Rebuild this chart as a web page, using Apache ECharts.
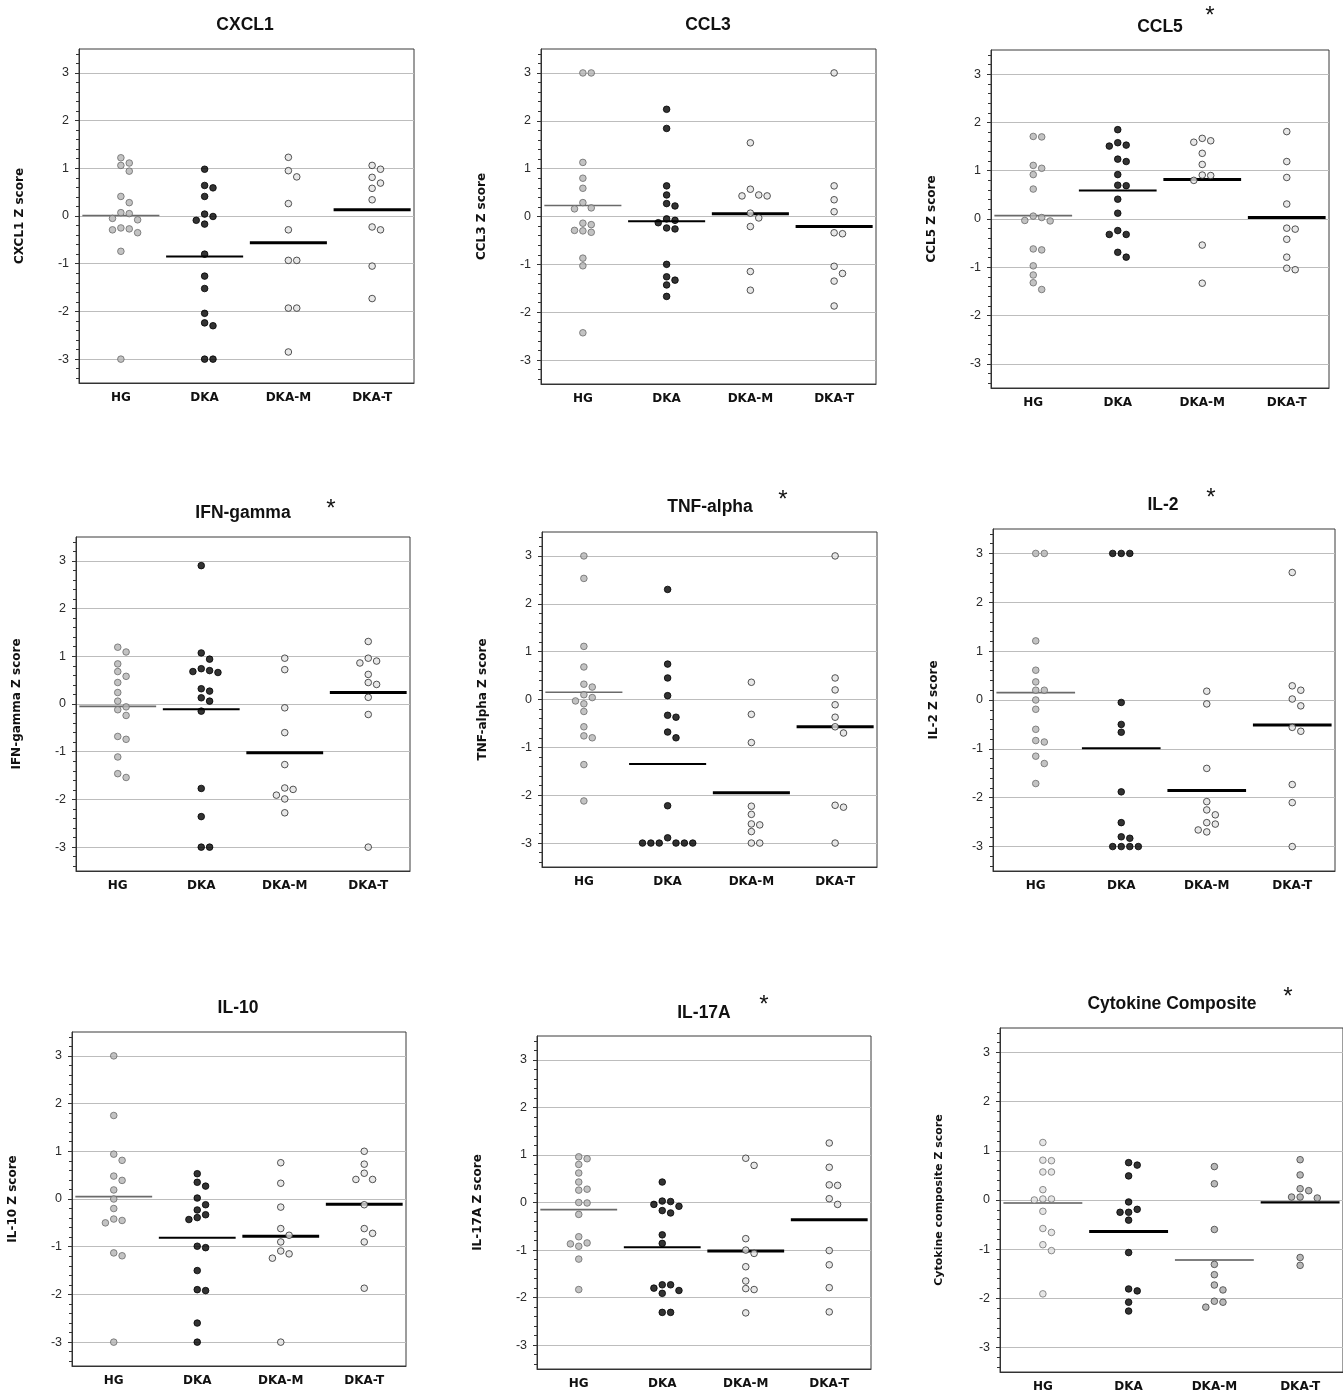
<!DOCTYPE html>
<html><head><meta charset="utf-8">
<script src="https://cdn.jsdelivr.net/npm/echarts@6/dist/echarts.min.js"></script>
<style>html,body{margin:0;padding:0;background:#fff}#c{width:1343px;height:1393px}</style>
</head><body><div id="c"></div>
<script>
// ---------------- DATA ----------------
const CATEGORIES = ['HG', 'DKA', 'DKA-M', 'DKA-T'];
const Y_TICKS = [-3, -2, -1, 0, 1, 2, 3];

const CXCL1_HG   = [1.22, 1.11, 1.06, 0.94, 0.41, 0.28, 0.07, 0.05, -0.05, -0.08, -0.25, -0.27, -0.29, -0.35, -0.74, -3.0];
const CXCL1_DKA  = [0.98, 0.64, 0.59, 0.41, 0.04, -0.01, -0.09, -0.17, -0.80, -1.26, -1.52, -2.04, -2.24, -2.30, -3.0, -3.0];
const CXCL1_DKAM = [1.23, 0.95, 0.82, 0.26, -0.29, -0.93, -0.93, -1.93, -1.93, -2.85];
const CXCL1_DKAT = [1.06, 0.98, 0.81, 0.69, 0.58, 0.34, -0.23, -0.29, -1.05, -1.73];
const CXCL1_MEANS = [0.01, -0.85, -0.56, 0.13];

const CCL3_HG   = [3.0, 3.0, 1.13, 0.80, 0.59, 0.29, 0.18, 0.16, -0.14, -0.17, -0.29, -0.30, -0.33, -0.87, -1.03, -2.43];
const CCL3_DKA  = [2.24, 1.84, 0.64, 0.45, 0.27, 0.22, -0.05, -0.08, -0.13, -0.24, -0.26, -1.00, -1.26, -1.33, -1.43, -1.67];
const CCL3_DKAM = [1.54, 0.57, 0.45, 0.43, 0.43, 0.07, -0.03, -0.21, -1.15, -1.54];
const CCL3_DKAT = [3.0, 0.64, 0.35, 0.10, -0.34, -0.36, -1.04, -1.19, -1.35, -1.87];
const CCL3_MEANS = [0.23, -0.10, 0.06, -0.21];

const CCL5_HG   = [1.71, 1.70, 1.11, 1.05, 0.92, 0.62, 0.06, 0.03, -0.03, -0.04, -0.62, -0.64, -0.97, -1.16, -1.32, -1.46];
const CCL5_DKA  = [1.85, 1.58, 1.53, 1.51, 1.24, 1.19, 0.92, 0.70, 0.69, 0.41, 0.12, -0.24, -0.32, -0.32, -0.69, -0.79];
const CCL5_DKAM = [1.67, 1.62, 1.59, 1.36, 1.13, 0.91, 0.90, 0.80, -0.54, -1.33];
const CCL5_DKAT = [1.81, 1.19, 0.86, 0.31, -0.19, -0.21, -0.42, -0.79, -1.02, -1.05];
const CCL5_MEANS = [0.07, 0.59, 0.82, 0.03];

const IFNG_HG   = [1.19, 1.09, 0.84, 0.68, 0.58, 0.45, 0.24, 0.06, -0.06, -0.12, -0.24, -0.68, -0.74, -1.11, -1.46, -1.54];
const IFNG_DKA  = [2.90, 1.07, 0.94, 0.74, 0.70, 0.68, 0.66, 0.32, 0.27, 0.13, 0.06, -0.15, -1.77, -2.36, -3.0, -3.0];
const IFNG_DKAM = [0.96, 0.72, -0.08, -0.60, -1.27, -1.76, -1.79, -1.91, -1.99, -2.28];
const IFNG_DKAT = [1.31, 0.96, 0.90, 0.86, 0.62, 0.45, 0.41, 0.14, -0.22, -3.0];
const IFNG_MEANS = [-0.05, -0.11, -1.02, 0.24];

const TNFA_HG   = [3.0, 2.53, 1.11, 0.68, 0.32, 0.26, 0.10, 0.04, -0.03, -0.09, -0.25, -0.57, -0.76, -0.80, -1.36, -2.12];
const TNFA_DKA  = [2.30, 0.74, 0.45, 0.08, -0.33, -0.37, -0.68, -0.80, -2.22, -2.89, -3.0, -3.0, -3.0, -3.0, -3.0, -3.0];
const TNFA_DKAM = [0.36, -0.31, -0.90, -2.23, -2.40, -2.60, -2.62, -2.76, -3.0, -3.0];
const TNFA_DKAT = [3.0, 0.45, 0.20, -0.11, -0.37, -0.57, -0.70, -2.21, -2.25, -3.0];
const TNFA_MEANS = [0.15, -1.35, -1.95, -0.57];

const IL2_HG   = [3.0, 3.0, 1.21, 0.61, 0.37, 0.20, 0.20, 0.0, -0.19, -0.60, -0.83, -0.86, -1.15, -1.30, -1.71];
const IL2_DKA  = [3.0, 3.0, 3.0, -0.05, -0.50, -0.66, -1.88, -2.51, -2.80, -2.83, -3.0, -3.0, -3.0, -3.0];
const IL2_DKAM = [0.18, -0.08, -1.40, -2.08, -2.25, -2.35, -2.51, -2.54, -2.66, -2.70];
const IL2_DKAT = [2.61, 0.29, 0.20, 0.02, -0.12, -0.56, -0.64, -1.73, -2.10, -3.0];
const IL2_MEANS = [0.15, -0.99, -1.85, -0.51];

const IL10_HG   = [3.0, 1.75, 0.94, 0.81, 0.48, 0.39, 0.19, 0.0, -0.20, -0.42, -0.45, -0.50, -1.13, -1.19, -3.0];
const IL10_DKA  = [0.53, 0.35, 0.27, 0.02, -0.12, -0.23, -0.33, -0.39, -0.43, -0.99, -1.02, -1.50, -1.90, -1.92, -2.60, -3.0];
const IL10_DKAM = [0.76, 0.33, -0.17, -0.62, -0.76, -0.90, -1.09, -1.15, -1.24, -3.0];
const IL10_DKAT = [1.00, 0.73, 0.54, 0.41, 0.41, -0.12, -0.62, -0.72, -0.90, -1.87];
const IL10_MEANS = [0.05, -0.81, -0.78, -0.11];

const IL17A_HG   = [0.96, 0.92, 0.80, 0.62, 0.43, 0.28, 0.26, 0.0, -0.01, -0.25, -0.72, -0.85, -0.87, -0.92, -1.19, -1.83];
const IL17A_DKA  = [0.43, 0.03, 0.02, -0.04, -0.08, -0.17, -0.22, -0.68, -0.86, -1.73, -1.73, -1.80, -1.85, -1.91, -2.31, -2.31];
const IL17A_DKAM = [0.93, 0.78, -0.76, -1.00, -1.07, -1.35, -1.65, -1.81, -1.83, -2.32];
const IL17A_DKAT = [1.25, 0.74, 0.37, 0.36, 0.08, -0.04, -1.01, -1.31, -1.79, -2.30];
const IL17A_MEANS = [-0.15, -0.94, -1.02, -0.36];

const COMP_HG   = [1.17, 0.81, 0.80, 0.57, 0.57, 0.21, 0.02, 0.02, 0.0, -0.23, -0.58, -0.66, -0.91, -1.03, -1.91];
const COMP_DKA  = [0.76, 0.71, 0.49, -0.04, -0.19, -0.25, -0.25, -0.41, -1.07, -1.81, -1.85, -2.08, -2.26];
const COMP_DKAM = [0.68, 0.33, -0.60, -1.31, -1.52, -1.73, -1.83, -2.06, -2.08, -2.18];
const COMP_DKAT = [0.82, 0.51, 0.23, 0.19, 0.06, 0.06, 0.04, -1.17, -1.33];
const COMP_MEANS = [-0.06, -0.64, -1.22, -0.05];

const PANELS = [
  { title: 'CXCL1', star: false, yName: 'CXCL1 Z score', groups: [CXCL1_HG, CXCL1_DKA, CXCL1_DKAM, CXCL1_DKAT], means: CXCL1_MEANS, style: 'std' },
  { title: 'CCL3', star: false, yName: 'CCL3 Z score', groups: [CCL3_HG, CCL3_DKA, CCL3_DKAM, CCL3_DKAT], means: CCL3_MEANS, style: 'std' },
  { title: 'CCL5', star: true, yName: 'CCL5 Z score', groups: [CCL5_HG, CCL5_DKA, CCL5_DKAM, CCL5_DKAT], means: CCL5_MEANS, style: 'std' },
  { title: 'IFN-gamma', star: true, yName: 'IFN-gamma Z score', groups: [IFNG_HG, IFNG_DKA, IFNG_DKAM, IFNG_DKAT], means: IFNG_MEANS, style: 'std' },
  { title: 'TNF-alpha', star: true, yName: 'TNF-alpha Z score', groups: [TNFA_HG, TNFA_DKA, TNFA_DKAM, TNFA_DKAT], means: TNFA_MEANS, style: 'std' },
  { title: 'IL-2', star: true, yName: 'IL-2 Z score', groups: [IL2_HG, IL2_DKA, IL2_DKAM, IL2_DKAT], means: IL2_MEANS, style: 'std' },
  { title: 'IL-10', star: false, yName: 'IL-10 Z score', groups: [IL10_HG, IL10_DKA, IL10_DKAM, IL10_DKAT], means: IL10_MEANS, style: 'std' },
  { title: 'IL-17A', star: true, yName: 'IL-17A Z score', groups: [IL17A_HG, IL17A_DKA, IL17A_DKAM, IL17A_DKAT], means: IL17A_MEANS, style: 'std' },
  { title: 'Cytokine Composite', star: true, yName: 'Cytokine composite Z score', groups: [COMP_HG, COMP_DKA, COMP_DKAM, COMP_DKAT], means: COMP_MEANS, style: 'comp' }
];

// ---------------- LAYOUT (pixels) ----------------
const LAYOUT = [
  { l: 79,   t: 49,   w: 335, h: 334, tx: 245,  ty: 25 },
  { l: 541,  t: 49,   w: 335, h: 335, tx: 708,  ty: 25 },
  { l: 991,  t: 50,   w: 338, h: 338, tx: 1160, ty: 27,   sx: 1210, sy: 16 },
  { l: 76,   t: 537,  w: 334, h: 334, tx: 243,  ty: 513,  sx: 331,  sy: 509 },
  { l: 542,  t: 532,  w: 335, h: 335, tx: 710,  ty: 507,  sx: 783,  sy: 500 },
  { l: 993,  t: 529,  w: 342, h: 342, tx: 1163, ty: 505,  sx: 1211, sy: 498 },
  { l: 72,   t: 1032, w: 334, h: 334, tx: 238,  ty: 1008 },
  { l: 537,  t: 1036, w: 334, h: 333, tx: 704,  ty: 1013, sx: 764,  sy: 1005 },
  { l: 1000, t: 1028, w: 343, h: 344, tx: 1172, ty: 1004, sx: 1288, sy: 997 }
];

const Y_MIN = -3.5, Y_MAX = 3.5;
const DOT_STEP = 0.1;     // horizontal spacing of stacked dots (category widths)
const DOT_SIZE = 6.6;
const COLLIDE_PX = 7.4;

const POINT_STYLES = {
  std: [
    { color: '#b4b4b4', borderColor: '#6a6a6a', borderWidth: 1 },
    { color: '#000000', borderColor: '#000000', borderWidth: 1 },
    { color: '#e2e2e2', borderColor: '#2a2a2a', borderWidth: 1 },
    { color: '#e2e2e2', borderColor: '#2a2a2a', borderWidth: 1 }
  ],
  comp: [
    { color: '#e0e0e0', borderColor: '#707070', borderWidth: 1 },
    { color: '#000000', borderColor: '#000000', borderWidth: 1 },
    { color: '#a8a8a8', borderColor: '#404040', borderWidth: 1 },
    { color: '#a8a8a8', borderColor: '#404040', borderWidth: 1 }
  ]
};
const LINE_STYLES = {
  std: [
    { color: '#6a6a6a', width: 1.6 },
    { color: '#000000', width: 2 },
    { color: '#000000', width: 3 },
    { color: '#000000', width: 3 }
  ],
  comp: [
    { color: '#5a5a5a', width: 1.6 },
    { color: '#000000', width: 3 },
    { color: '#555555', width: 1.6 },
    { color: '#000000', width: 2.2 }
  ]
};

const MINOR_TICKS = [];
for (let i = -17; i <= 17; i++) { if (i % 5 !== 0) MINOR_TICKS.push(Math.round(i * 0.2 * 10) / 10); }

// simple beeswarm: returns column offsets (integer) per value
function swarm(values, unitPx) {
  const idx = values.map((v, i) => i).sort((a, b) => values[b] - values[a]);
  const order = [0, 1, -1, 2, -2, 3, -3, 4, -4, 5, -5];
  const placed = [];
  const cols = new Array(values.length).fill(0);
  idx.forEach(i => {
    const y = values[i] * unitPx;
    for (const c of order) {
      if (!placed.some(p => p.c === c && Math.abs(p.y - y) < COLLIDE_PX)) {
        cols[i] = c; placed.push({ c, y }); break;
      }
    }
  });
  return cols;
}

const grids = [], xAxes = [], yAxes = [], series = [], graphics = [];
const TITLE_FONT = 'bold 17.5px "Liberation Sans", Arial, sans-serif';

PANELS.forEach((p, gi) => {
  const L = LAYOUT[gi];
  grids.push({ left: L.l, top: L.t, width: L.w, height: L.h, show: true, borderColor: '#3a3a3a', borderWidth: 1, backgroundColor: 'transparent' });
  xAxes.push({
    type: 'value', gridIndex: gi, min: 0, max: CATEGORIES.length, position: 'bottom',
    axisLine: { show: true, onZero: false, lineStyle: { color: '#333', width: 1 } },
    axisTick: { show: false },
    splitLine: { show: false },
    axisLabel: {
      customValues: CATEGORIES.map((c, i) => i + 0.5),
      formatter: v => CATEGORIES[Math.round(v - 0.5)] || '',
      fontFamily: 'DejaVu Sans', fontWeight: 'bold', fontSize: 12, color: '#111', margin: 9
    }
  });
  yAxes.push({
    type: 'value', gridIndex: gi, min: Y_MIN, max: Y_MAX, position: 'left',
    name: p.yName, nameLocation: 'middle', nameGap: p.style === 'comp' ? 55 : 53,
    nameTextStyle: { fontFamily: 'DejaVu Sans', fontWeight: 'bold', fontSize: p.style === 'comp' ? 11 : 12, color: '#111' },
    axisLine: { show: true, onZero: false, lineStyle: { color: '#333', width: 1 } },
    axisTick: { show: true, customValues: Y_TICKS, length: 4, lineStyle: { color: '#333' } },
    axisLabel: { customValues: Y_TICKS, formatter: v => String(v), fontFamily: 'Liberation Sans', fontSize: 12.5, color: '#2a2a2a', margin: 10 },
    splitLine: { show: true, lineStyle: { color: '#bdbdbd', width: 1 } }
  });
  yAxes.push({
    type: 'value', gridIndex: gi, min: Y_MIN, max: Y_MAX, position: 'left',
    axisLine: { show: false, onZero: false },
    axisTick: { show: true, customValues: MINOR_TICKS, length: 3, lineStyle: { color: '#333' } },
    axisLabel: { show: false },
    splitLine: { show: false }
  });
  const unitPx = L.h / (Y_MAX - Y_MIN);
  p.groups.forEach((vals, k) => {
    const cols = swarm(vals, unitPx);
    series.push({
      type: 'scatter', xAxisIndex: gi, yAxisIndex: 2 * gi, z: 3,
      symbol: 'circle', symbolSize: DOT_SIZE,
      itemStyle: POINT_STYLES[p.style][k],
      data: vals.map((v, i) => [k + 0.5 + cols[i] * DOT_STEP, v])
    });
    series.push({
      type: 'line', xAxisIndex: gi, yAxisIndex: 2 * gi, z: 2,
      symbol: 'none', lineStyle: LINE_STYLES[p.style][k],
      data: [[k + 0.04, p.means[k]], [k + 0.96, p.means[k]]]
    });
  });
  graphics.push({
    type: 'text', x: L.tx, y: L.ty,
    style: { text: p.title, font: TITLE_FONT, fill: '#111', textAlign: 'center', textVerticalAlign: 'middle' }
  });
  if (p.star) {
    graphics.push({
      type: 'text', x: L.sx, y: L.sy,
      style: { text: '*', font: '24px "Liberation Sans", Arial, sans-serif', fill: '#111', textAlign: 'center', textVerticalAlign: 'middle' }
    });
  }
});

const chart = echarts.init(document.getElementById('c'), null, { renderer: 'canvas' });
chart.setOption({
  animation: false,
  backgroundColor: '#ffffff',
  grid: grids, xAxis: xAxes, yAxis: yAxes, series: series, graphic: graphics
});
</script></body></html>
